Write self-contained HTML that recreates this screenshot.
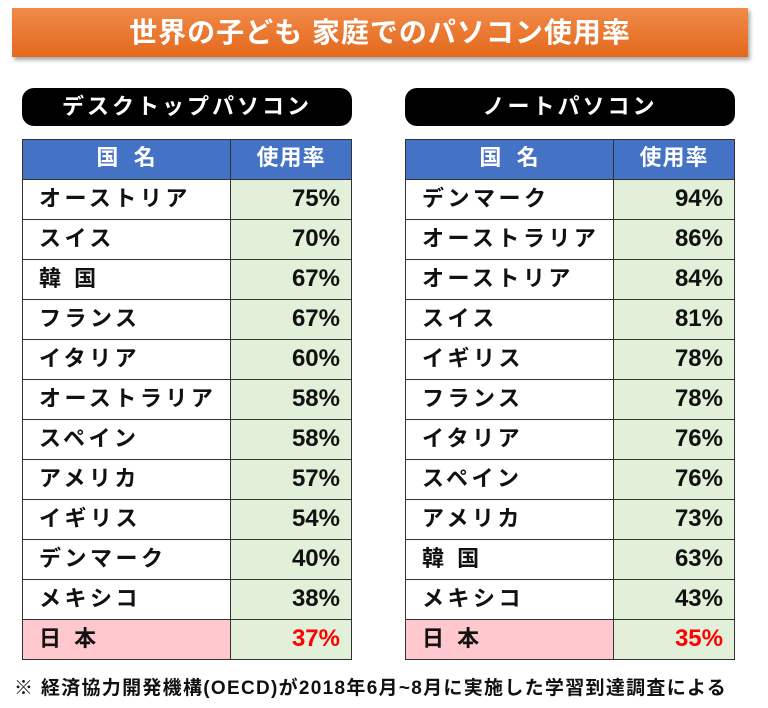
<!DOCTYPE html>
<html><head><meta charset="utf-8"><style>
*{margin:0;padding:0;box-sizing:border-box}
body{width:768px;height:708px;background:#fff;position:relative;overflow:hidden;font-family:"Liberation Sans","Noto Sans CJK JP",sans-serif;}
.title{position:absolute;left:12px;top:8px;width:736px;height:49px;background:linear-gradient(#f08a4a,#e4691c);box-shadow:2px 3px 4px rgba(0,0,0,.35);color:#fff;font-size:28px;font-weight:bold;text-align:center;line-height:49px;letter-spacing:1px}
.pill{position:absolute;top:88px;width:330px;height:38px;background:#000;border-radius:12px;color:#fff;font-size:22px;font-weight:bold;text-align:center;line-height:38px;letter-spacing:3px}
table{position:absolute;top:139px;border-collapse:collapse;width:330px}
td{height:40px;border:1.5px solid #333;font-size:22px;font-weight:bold;color:#111;line-height:1;padding-bottom:1px}
td.n{width:208px;padding-left:16px;letter-spacing:3.5px;background:#fff}
td.v{background:#e2efd9;text-align:right;padding-right:11px;font-size:24px;padding-bottom:2px}
tr.h td{background:#4472c4;color:#fff;text-align:center;padding:0 0 3px 0;letter-spacing:1px}
tr.j td.n{background:#ffc7ce}
tr.j td.v{color:#f00}
.foot{position:absolute;left:14px;top:673px;font-size:19px;font-weight:bold;color:#111;letter-spacing:1.3px;white-space:nowrap}
</style></head><body>
<div class="title">世界の子ども 家庭でのパソコン使用率</div>
<div class="pill" style="left:22px">デスクトップパソコン</div>
<div class="pill" style="left:405px">ノートパソコン</div>
<table style="left:22px">
<tr class="h"><td class="n" style="padding:0 0 3px 0">国&nbsp;&nbsp;名</td><td class="v" style="text-align:center;padding:0 0 3px 0;font-size:22px">使用率</td></tr>
<tr><td class="n">オーストリア</td><td class="v">75%</td></tr>
<tr><td class="n">スイス</td><td class="v">70%</td></tr>
<tr><td class="n">韓 国</td><td class="v">67%</td></tr>
<tr><td class="n">フランス</td><td class="v">67%</td></tr>
<tr><td class="n">イタリア</td><td class="v">60%</td></tr>
<tr><td class="n">オーストラリア</td><td class="v">58%</td></tr>
<tr><td class="n">スペイン</td><td class="v">58%</td></tr>
<tr><td class="n">アメリカ</td><td class="v">57%</td></tr>
<tr><td class="n">イギリス</td><td class="v">54%</td></tr>
<tr><td class="n">デンマーク</td><td class="v">40%</td></tr>
<tr><td class="n">メキシコ</td><td class="v">38%</td></tr>
<tr class="j"><td class="n">日 本</td><td class="v">37%</td></tr>
</table>
<table style="left:405px">
<tr class="h"><td class="n" style="padding:0 0 3px 0">国&nbsp;&nbsp;名</td><td class="v" style="text-align:center;padding:0 0 3px 0;font-size:22px">使用率</td></tr>
<tr><td class="n">デンマーク</td><td class="v">94%</td></tr>
<tr><td class="n">オーストラリア</td><td class="v">86%</td></tr>
<tr><td class="n">オーストリア</td><td class="v">84%</td></tr>
<tr><td class="n">スイス</td><td class="v">81%</td></tr>
<tr><td class="n">イギリス</td><td class="v">78%</td></tr>
<tr><td class="n">フランス</td><td class="v">78%</td></tr>
<tr><td class="n">イタリア</td><td class="v">76%</td></tr>
<tr><td class="n">スペイン</td><td class="v">76%</td></tr>
<tr><td class="n">アメリカ</td><td class="v">73%</td></tr>
<tr><td class="n">韓 国</td><td class="v">63%</td></tr>
<tr><td class="n">メキシコ</td><td class="v">43%</td></tr>
<tr class="j"><td class="n">日 本</td><td class="v">35%</td></tr>
</table>
<div class="foot">※ 経済協力開発機構(OECD)が2018年6月~8月に実施した学習到達調査による</div>
</body></html>
